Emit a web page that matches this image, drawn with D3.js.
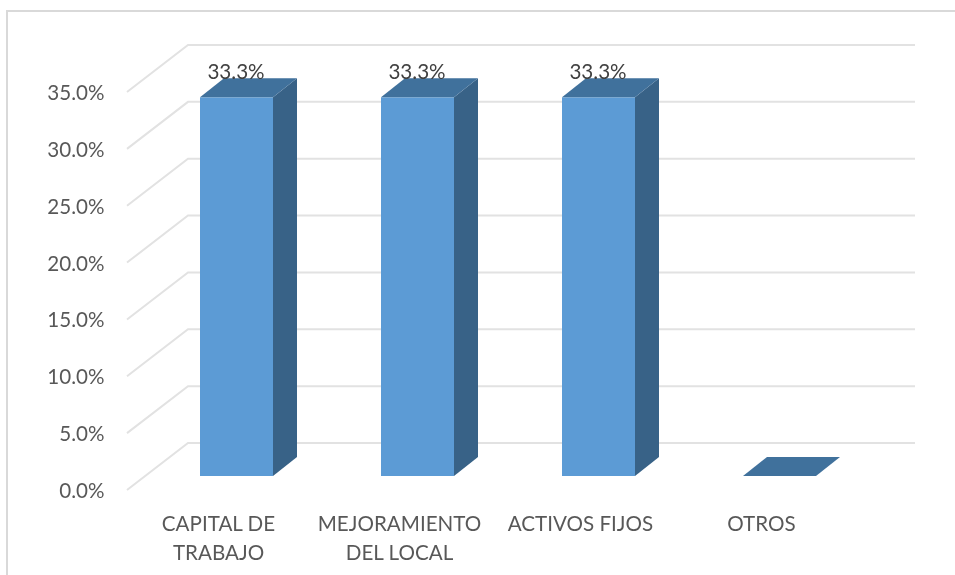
<!DOCTYPE html>
<html><head><meta charset="utf-8">
<script src="https://cdn.jsdelivr.net/npm/d3@7"></script>
<style>html,body{margin:0;padding:0;background:#fff}svg{display:block}text{font-family:Lato,"Open Sans",sans-serif}</style>
</head><body><svg id="c" width="955" height="575"></svg>
<script>
const categories=["CAPITAL DE|TRABAJO","MEJORAMIENTO|DEL LOCAL","ACTIVOS FIJOS","OTROS"];
const values=[33.3,33.3,33.3,0];
const labels=["33.3%","33.3%","33.3%",""];
const ticks=[0,5,10,15,20,25,30,35];
const svg=d3.select("#c");
svg.append("path").attr("d","M7,575V11H955").attr("fill","none").attr("stroke","#d9d9d9").attr("stroke-width",2);
const yBack=d3.scaleLinear().domain([0,35]).range([443,45]);
const yBar=d3.scaleLinear().domain([0,35]).range([476,78]);
const x=d3.scalePoint().domain(d3.range(4)).range([236.5,779.5]);
const W=73,DX=24,DY=19;
const g=svg.append("g").attr("filter","url(#b)");
const defs=svg.append("defs");
defs.append("filter").attr("id","b").append("feGaussianBlur").attr("stdDeviation",0.45);
ticks.forEach(t=>{
 g.append("path").attr("d",`M127,${yBack(t)+47}L188,${yBack(t)}H915`).attr("fill","none").attr("stroke","#e2e2e2").attr("stroke-width",2);
});
values.forEach((v,i)=>{
 const l=x(i)-W/2,r=l+W,b=yBar(0),t=yBar(v);
 if(v>0){
  g.append("rect").attr("x",l).attr("y",t).attr("width",W).attr("height",b-t).attr("fill","#5b9bd5");
  g.append("path").attr("d",`M${r},${t}l${DX},${-DY}V${b-DY}l${-DX},${DY}Z`).attr("fill","#376287");
 }
 g.append("path").attr("d",`M${l},${t}l${DX},${-DY}h${W}l${-DX},${DY}Z`).attr("fill","#41719c");
});
const fs=20.6,col="#595959";
const tg=svg.append("g").attr("filter","url(#b2)");
defs.append("filter").attr("id","b2").append("feGaussianBlur").attr("stdDeviation",0.3);
ticks.forEach(t=>tg.append("text").attr("x",104.5).attr("y",yBack(t)+47+8).attr("text-anchor","end").attr("font-size",fs).attr("fill",col).text(d3.format(".1f")(t)+"%"));
values.forEach((v,i)=>{
 if(labels[i]) tg.append("text").attr("x",x(i)-0.5).attr("y",yBar(v)-18).attr("text-anchor","middle").attr("font-size",fs).attr("fill","#404040").text(labels[i]);
 categories[i].split("|").forEach((s,j)=>tg.append("text").attr("x",x(i)-18).attr("y",531+j*28.5).attr("text-anchor","middle").attr("font-size",fs).attr("fill",col).text(s));
});
</script></body></html>
